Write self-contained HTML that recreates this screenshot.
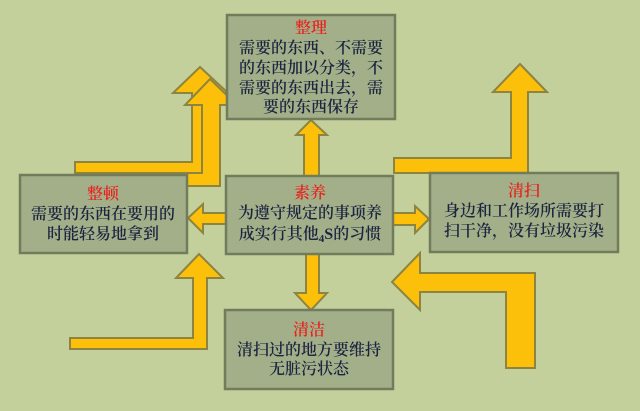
<!DOCTYPE html>
<html><head><meta charset="utf-8"><style>
html,body{margin:0;padding:0;background:#c3d09c;}
svg{display:block}
text{font-family:"Liberation Serif","Noto Serif CJK SC","Noto Sans CJK SC",serif;font-size:16px;font-weight:600;text-anchor:middle;fill:#1c2440}
.t{fill:#e8231e}
</style></head><body>
<svg width="640" height="411" viewBox="0 0 640 411" xmlns="http://www.w3.org/2000/svg">
<rect width="640" height="411" fill="#c3d09c"/>
<g fill="#fcbf0a" stroke="#8c8440" stroke-width="2" stroke-linejoin="miter">
<polygon points="75,173 75,162 192,162 192,93 173,93 200,67 228,93 204,93 204,173"/>
<polygon points="85,186 85,173 202,173 202,105 185,105 210,79 237,105 220,105 220,186"/>
<polygon points="394,173 394,158 511,158 511,92 493,92 520,64 547,92 528,92 528,173"/>
<polygon points="70,349 70,338 193,338 193,278 176,278 199,254 223,278 207,278 207,349"/>
<polygon points="535,368 506,368 506,292 420,292 420,310 392,282 420,253 420,273 535,273"/>
<polygon points="304,176 304,135 296,135 311,120 327,135 319,135 319,176"/>
<polygon points="306,254 306,293 295,293 311,310 327,293 319,293 319,254"/>
<polygon points="226,213 203,213 203,204 188,218 203,233 203,224 226,224"/>
<polygon points="393,213 415,213 415,206 429,219 415,233 415,225 393,225"/>
</g>
<g fill="#a3af89" stroke="#737c5a" stroke-width="2.5">
<rect x="227" y="15" width="168" height="104"/>
<rect x="20" y="175" width="167" height="78"/>
<rect x="226" y="176" width="167" height="78"/>
<rect x="430" y="173" width="188" height="79"/>
<rect x="225" y="310" width="168" height="79"/>
</g>
<text class="t" x="311" y="33">整理</text>
<text x="311" y="53">需要的东西、不需要</text>
<text x="311" y="73">的东西加以分类，不</text>
<text x="311" y="93">需要的东西出去，需</text>
<text x="311" y="112">要的东西保存</text>

<text class="t" x="103" y="199">整顿</text>
<text x="103" y="219">需要的东西在要用的</text>
<text x="103" y="239">时能轻易地拿到</text>

<text class="t" x="310" y="198">素养</text>
<text x="310" y="218">为遵守规定的事项养</text>
<text x="310" y="239">成实行其他<tspan font-size="11" dy="3">4</tspan><tspan dy="-3">S的习惯</tspan></text>

<text class="t" x="524" y="196">清扫</text>
<text x="524" y="216">身边和工作场所需要打</text>
<text x="524" y="236">扫干净，没有垃圾污染</text>

<text class="t" x="309" y="335">清洁</text>
<text x="309" y="355">清扫过的地方要维持</text>
<text x="309" y="374">无脏污状态</text>
</svg>
</body></html>
